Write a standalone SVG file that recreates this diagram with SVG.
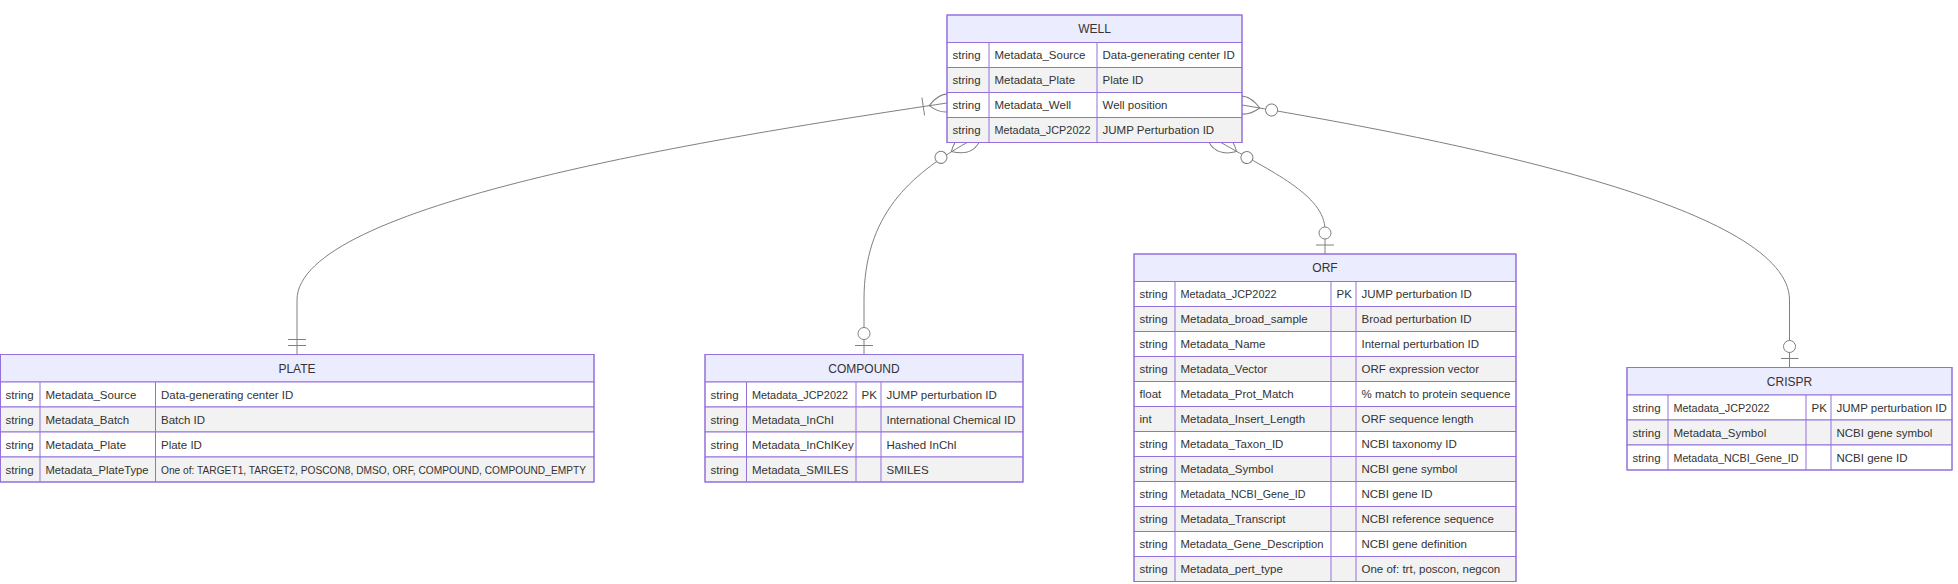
<svg xmlns="http://www.w3.org/2000/svg" width="1958" height="584" viewBox="0 0 1958 584">
<style>
.rel{fill:none;stroke:gray;stroke-width:1}
.mk{stroke:gray;fill:none;stroke-width:1}
.mc{stroke:gray;fill:#fff;stroke-width:1}
.hdr{fill:#ECECFF;stroke:#9370DB;stroke-width:1}
.odd{fill:#ffffff;stroke:#9370DB;stroke-width:1}
.even{fill:#f2f2f2;stroke:#9370DB;stroke-width:1}
.sep{stroke:#9370DB;stroke-width:1}
.box{fill:none;stroke:#9370DB;stroke-width:1}
text{font-family:"Liberation Sans",Arial,sans-serif;fill:#333}
.ht{font-size:12px;text-anchor:middle}
.t{font-size:11.5px}
</style>
<defs>
<marker id="oneOrMoreStart" refX="18" refY="18" markerWidth="45" markerHeight="36" orient="auto" markerUnits="userSpaceOnUse"><path class="mk" d="M0,18 Q 18,0 36,18 Q 18,36 0,18 M42,9 L42,27"/></marker>
<marker id="zeroOrMoreStart" refX="18" refY="18" markerWidth="57" markerHeight="36" orient="auto" markerUnits="userSpaceOnUse"><circle class="mc" cx="48" cy="18" r="6"/><path class="mk" d="M0,18 Q18,0 36,18 Q18,36 0,18"/></marker>
<marker id="onlyOneEnd" refX="18" refY="9" markerWidth="18" markerHeight="18" orient="auto" markerUnits="userSpaceOnUse"><path class="mk" d="M3,0 L3,18 M9,0 L9,18"/></marker>
<marker id="zeroOrOneEnd" refX="30" refY="9" markerWidth="30" markerHeight="18" orient="auto" markerUnits="userSpaceOnUse"><circle class="mc" cx="9" cy="9" r="6"/><path class="mk" d="M21,0 L21,18"/></marker>
</defs>

<g id="connectors">
<path class="rel" d="M947,103 C700,140 297,205 297,300 L297,354.5" marker-start="url(#oneOrMoreStart)" marker-end="url(#onlyOneEnd)"/>
<path class="rel" d="M967,142.5 C910,175 864,215 864,300 L864,354.5" marker-start="url(#zeroOrMoreStart)" marker-end="url(#zeroOrOneEnd)"/>
<path class="rel" d="M1221,142.5 C1270,171 1325,195 1325,230 L1325,254" marker-start="url(#zeroOrMoreStart)" marker-end="url(#zeroOrOneEnd)"/>
<path class="rel" d="M1242,105 C1480,145 1789.5,210 1789.5,300 L1789.5,367.5" marker-start="url(#zeroOrMoreStart)" marker-end="url(#zeroOrOneEnd)"/>
</g>

<g id="well">
<rect class="hdr" x="947" y="15" width="295" height="27.5"/>
<text class="ht" x="1094.5" y="33">WELL</text>
<rect class="odd" x="947" y="42.5" width="295" height="25"/>
<rect class="even" x="947" y="67.5" width="295" height="25"/>
<rect class="odd" x="947" y="92.5" width="295" height="25"/>
<rect class="even" x="947" y="117.5" width="295" height="25"/>
<line class="sep" x1="989" y1="42.5" x2="989" y2="142.5"/>
<line class="sep" x1="1097" y1="42.5" x2="1097" y2="142.5"/>
<rect class="box" x="947" y="15" width="295" height="127.5"/>
<text class="t" x="952.5" y="59">string</text><text class="t" x="994.5" y="59">Metadata_Source</text><text class="t" x="1102.5" y="59">Data-generating center ID</text>
<text class="t" x="952.5" y="84">string</text><text class="t" x="994.5" y="84">Metadata_Plate</text><text class="t" x="1102.5" y="84">Plate ID</text>
<text class="t" x="952.5" y="109">string</text><text class="t" x="994.5" y="109">Metadata_Well</text><text class="t" x="1102.5" y="109">Well position</text>
<text class="t" x="952.5" y="134">string</text><text class="t" x="994.5" y="134" textLength="96" lengthAdjust="spacingAndGlyphs">Metadata_JCP2022</text><text class="t" x="1102.5" y="134">JUMP Perturbation ID</text>
</g>

<g id="plate">
<rect class="hdr" x="0.5" y="354.5" width="593.5" height="27.5"/>
<text class="ht" x="297" y="372.5">PLATE</text>
<rect class="odd" x="0.5" y="382" width="593.5" height="25"/>
<rect class="even" x="0.5" y="407" width="593.5" height="25"/>
<rect class="odd" x="0.5" y="432" width="593.5" height="25"/>
<rect class="even" x="0.5" y="457" width="593.5" height="25"/>
<line class="sep" x1="40" y1="382" x2="40" y2="482"/>
<line class="sep" x1="155.5" y1="382" x2="155.5" y2="482"/>
<rect class="box" x="0.5" y="354.5" width="593.5" height="127.5"/>
<text class="t" x="5.5" y="398.5">string</text><text class="t" x="45.5" y="398.5">Metadata_Source</text><text class="t" x="161" y="398.5">Data-generating center ID</text>
<text class="t" x="5.5" y="423.5">string</text><text class="t" x="45.5" y="423.5">Metadata_Batch</text><text class="t" x="161" y="423.5">Batch ID</text>
<text class="t" x="5.5" y="448.5">string</text><text class="t" x="45.5" y="448.5">Metadata_Plate</text><text class="t" x="161" y="448.5">Plate ID</text>
<text class="t" x="5.5" y="473.5">string</text><text class="t" x="45.5" y="473.5" textLength="103" lengthAdjust="spacingAndGlyphs">Metadata_PlateType</text><text class="t" x="161" y="473.5" textLength="425" lengthAdjust="spacingAndGlyphs">One of: TARGET1, TARGET2, POSCON8, DMSO, ORF, COMPOUND, COMPOUND_EMPTY</text>
</g>

<g id="compound">
<rect class="hdr" x="705" y="354.5" width="318" height="27.5"/>
<text class="ht" x="864" y="372.5">COMPOUND</text>
<rect class="odd" x="705" y="382" width="318" height="25"/>
<rect class="even" x="705" y="407" width="318" height="25"/>
<rect class="odd" x="705" y="432" width="318" height="25"/>
<rect class="even" x="705" y="457" width="318" height="25"/>
<line class="sep" x1="746.5" y1="382" x2="746.5" y2="482"/>
<line class="sep" x1="856" y1="382" x2="856" y2="482"/>
<line class="sep" x1="881" y1="382" x2="881" y2="482"/>
<rect class="box" x="705" y="354.5" width="318" height="127.5"/>
<text class="t" x="710.5" y="398.5">string</text><text class="t" x="752" y="398.5" textLength="96" lengthAdjust="spacingAndGlyphs">Metadata_JCP2022</text><text class="t" x="861.5" y="398.5">PK</text><text class="t" x="886.5" y="398.5">JUMP perturbation ID</text>
<text class="t" x="710.5" y="423.5">string</text><text class="t" x="752" y="423.5">Metadata_InChI</text><text class="t" x="886.5" y="423.5">International Chemical ID</text>
<text class="t" x="710.5" y="448.5">string</text><text class="t" x="752" y="448.5">Metadata_InChIKey</text><text class="t" x="886.5" y="448.5">Hashed InChI</text>
<text class="t" x="710.5" y="473.5">string</text><text class="t" x="752" y="473.5">Metadata_SMILES</text><text class="t" x="886.5" y="473.5">SMILES</text>
</g>

<g id="orf">
<rect class="hdr" x="1134" y="254" width="382" height="27.5"/>
<text class="ht" x="1325" y="272">ORF</text>
<rect class="odd" x="1134" y="281.5" width="382" height="25"/>
<rect class="even" x="1134" y="306.5" width="382" height="25"/>
<rect class="odd" x="1134" y="331.5" width="382" height="25"/>
<rect class="even" x="1134" y="356.5" width="382" height="25"/>
<rect class="odd" x="1134" y="381.5" width="382" height="25"/>
<rect class="even" x="1134" y="406.5" width="382" height="25"/>
<rect class="odd" x="1134" y="431.5" width="382" height="25"/>
<rect class="even" x="1134" y="456.5" width="382" height="25"/>
<rect class="odd" x="1134" y="481.5" width="382" height="25"/>
<rect class="even" x="1134" y="506.5" width="382" height="25"/>
<rect class="odd" x="1134" y="531.5" width="382" height="25"/>
<rect class="even" x="1134" y="556.5" width="382" height="25"/>
<line class="sep" x1="1175" y1="281.5" x2="1175" y2="581.5"/>
<line class="sep" x1="1331" y1="281.5" x2="1331" y2="581.5"/>
<line class="sep" x1="1356" y1="281.5" x2="1356" y2="581.5"/>
<rect class="box" x="1134" y="254" width="382" height="327.5"/>
<text class="t" x="1139.5" y="298">string</text><text class="t" x="1180.5" y="298" textLength="96" lengthAdjust="spacingAndGlyphs">Metadata_JCP2022</text><text class="t" x="1336.5" y="298">PK</text><text class="t" x="1361.5" y="298">JUMP perturbation ID</text>
<text class="t" x="1139.5" y="323">string</text><text class="t" x="1180.5" y="323">Metadata_broad_sample</text><text class="t" x="1361.5" y="323">Broad perturbation ID</text>
<text class="t" x="1139.5" y="348">string</text><text class="t" x="1180.5" y="348">Metadata_Name</text><text class="t" x="1361.5" y="348">Internal perturbation ID</text>
<text class="t" x="1139.5" y="373">string</text><text class="t" x="1180.5" y="373">Metadata_Vector</text><text class="t" x="1361.5" y="373">ORF expression vector</text>
<text class="t" x="1139.5" y="398">float</text><text class="t" x="1180.5" y="398">Metadata_Prot_Match</text><text class="t" x="1361.5" y="398">% match to protein sequence</text>
<text class="t" x="1139.5" y="423">int</text><text class="t" x="1180.5" y="423">Metadata_Insert_Length</text><text class="t" x="1361.5" y="423">ORF sequence length</text>
<text class="t" x="1139.5" y="448">string</text><text class="t" x="1180.5" y="448">Metadata_Taxon_ID</text><text class="t" x="1361.5" y="448">NCBI taxonomy ID</text>
<text class="t" x="1139.5" y="473">string</text><text class="t" x="1180.5" y="473">Metadata_Symbol</text><text class="t" x="1361.5" y="473">NCBI gene symbol</text>
<text class="t" x="1139.5" y="498">string</text><text class="t" x="1180.5" y="498" textLength="125" lengthAdjust="spacingAndGlyphs">Metadata_NCBI_Gene_ID</text><text class="t" x="1361.5" y="498">NCBI gene ID</text>
<text class="t" x="1139.5" y="523">string</text><text class="t" x="1180.5" y="523">Metadata_Transcript</text><text class="t" x="1361.5" y="523">NCBI reference sequence</text>
<text class="t" x="1139.5" y="548">string</text><text class="t" x="1180.5" y="548" textLength="143" lengthAdjust="spacingAndGlyphs">Metadata_Gene_Description</text><text class="t" x="1361.5" y="548">NCBI gene definition</text>
<text class="t" x="1139.5" y="573">string</text><text class="t" x="1180.5" y="573">Metadata_pert_type</text><text class="t" x="1361.5" y="573">One of: trt, poscon, negcon</text>
</g>

<g id="crispr">
<rect class="hdr" x="1627" y="367.5" width="325" height="27.5"/>
<text class="ht" x="1789.5" y="385.5">CRISPR</text>
<rect class="odd" x="1627" y="395" width="325" height="25"/>
<rect class="even" x="1627" y="420" width="325" height="25"/>
<rect class="odd" x="1627" y="445" width="325" height="25"/>
<line class="sep" x1="1668" y1="395" x2="1668" y2="470"/>
<line class="sep" x1="1806" y1="395" x2="1806" y2="470"/>
<line class="sep" x1="1831" y1="395" x2="1831" y2="470"/>
<rect class="box" x="1627" y="367.5" width="325" height="102.5"/>
<text class="t" x="1632.5" y="411.5">string</text><text class="t" x="1673.5" y="411.5" textLength="96" lengthAdjust="spacingAndGlyphs">Metadata_JCP2022</text><text class="t" x="1811.5" y="411.5">PK</text><text class="t" x="1836.5" y="411.5">JUMP perturbation ID</text>
<text class="t" x="1632.5" y="436.5">string</text><text class="t" x="1673.5" y="436.5">Metadata_Symbol</text><text class="t" x="1836.5" y="436.5">NCBI gene symbol</text>
<text class="t" x="1632.5" y="461.5">string</text><text class="t" x="1673.5" y="461.5" textLength="125" lengthAdjust="spacingAndGlyphs">Metadata_NCBI_Gene_ID</text><text class="t" x="1836.5" y="461.5">NCBI gene ID</text>
</g>
</svg>
